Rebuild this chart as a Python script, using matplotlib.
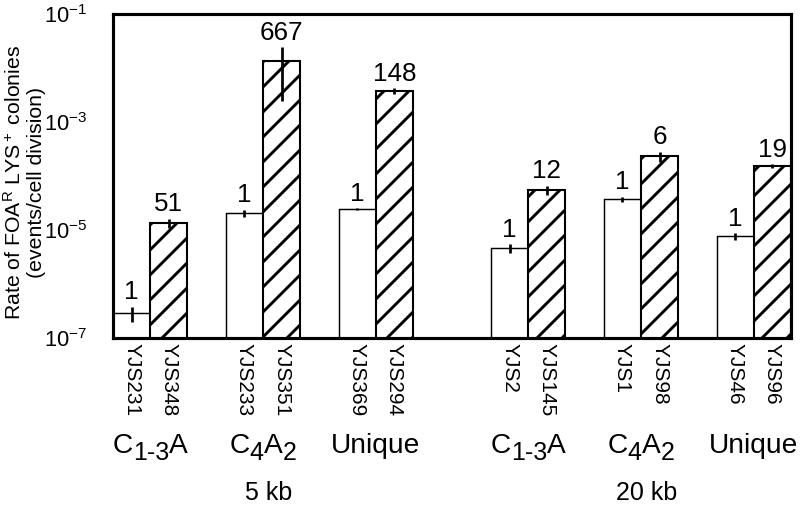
import numpy as np
import matplotlib
matplotlib.use("Agg")
import matplotlib.pyplot as plt
from matplotlib.ticker import NullLocator
from matplotlib.transforms import offset_copy

plt.rcParams['font.family'] = ['Liberation Sans', 'DejaVu Sans']
plt.rcParams['mathtext.fontset'] = 'custom'
plt.rcParams['mathtext.rm'] = 'Liberation Sans'
plt.rcParams['mathtext.it'] = 'Liberation Sans'
plt.rcParams['mathtext.default'] = 'regular'
plt.rcParams['hatch.linewidth'] = 1.4

# data
strains_white = ['YJS231', 'YJS233', 'YJS369', 'YJS2', 'YJS1', 'YJS46']
strains_hatch = ['YJS348', 'YJS351', 'YJS294', 'YJS145', 'YJS98', 'YJS96']
rate_white = [2.9e-7, 2.07e-5, 2.45e-5, 4.65e-6, 3.7e-5, 7.7e-6]
rate_hatch = [1.35e-5, 1.35e-2, 3.75e-3, 5.5e-5, 2.34e-4, 1.53e-4]
err_white = [0.9e-7, 0.3e-5, 0.1e-5, 0.9e-6, 0.45e-5, 1.1e-6]
err_hatch = [0.27e-5, 1.1e-2, 0.45e-3, 1.1e-5, 0.5e-4, 0.12e-4]
fold_white = ['1', '1', '1', '1', '1', '1']
fold_hatch = ['51', '667', '148', '12', '6', '19']
# group labels as (text, is_subscript) pieces
groups = [[('C', 0), ('1-3', 1), ('A', 0)],
          [('C', 0), ('4', 1), ('A', 0), ('2', 1)],
          [('Unique', 0)],
          [('C', 0), ('1-3', 1), ('A', 0)],
          [('C', 0), ('4', 1), ('A', 0), ('2', 1)],
          [('Unique', 0)]]
sizes = ['5 kb', '20 kb']

pos = np.array([0, 1, 2, 3.35, 4.35, 5.35])
w = 0.33

fig = plt.figure(figsize=(800 / 150, 506 / 150), dpi=150)
ax = fig.add_axes([113 / 800, 1 - 338 / 506, (791 - 113) / 800, (338 - 14) / 506])
ax.set_yscale('log')

ax.bar(pos - w / 2, rate_white, w, color='white', edgecolor='black', linewidth=0.7)
ax.bar(pos + w / 2, rate_hatch, w, color='white', edgecolor='black', linewidth=1.0, hatch='//')
ax.errorbar(pos - w / 2, rate_white, yerr=err_white, fmt='none', ecolor='black', elinewidth=1.3, capsize=0)
ax.errorbar(pos + w / 2, rate_hatch, yerr=err_hatch, fmt='none', ecolor='black', elinewidth=1.3, capsize=0)

for i in range(len(pos)):
    ax.annotate(fold_white[i], (pos[i] - w / 2, rate_white[i] + err_white[i]), xytext=(0, 3.5),
                textcoords='offset points', ha='center', va='baseline', fontsize=12.5)
    ax.annotate(fold_hatch[i], (pos[i] + w / 2, rate_hatch[i] + err_hatch[i]), xytext=(0, 3.5),
                textcoords='offset points', ha='center', va='baseline', fontsize=12.5)

ax.set_ylim(1e-7, 1e-1)
ax.set_xlim(pos[0] - w, pos[-1] + w)
ax.set_yticks([1e-7, 1e-5, 1e-3, 1e-1])
ax.set_yticklabels([r'10$^{-7}$', r'10$^{-5}$', r'10$^{-3}$', r'10$^{-1}$'], fontsize=10.5)
ax.yaxis.set_minor_locator(NullLocator())

xt = np.ravel(np.column_stack([pos - w / 2, pos + w / 2]))
xl = [s for pair in zip(strains_white, strains_hatch) for s in pair]
ax.set_xticks(xt)
ax.set_xticklabels(xl, rotation=-90, fontsize=10, va='top', ha='center')
ax.tick_params(axis='x', length=0, pad=2.5)
ax.tick_params(axis='y', length=0, pad=12.5)

for s in ax.spines.values():
    s.set_linewidth(1.5)

trans = ax.get_xaxis_transform()
renderer = fig.canvas.get_renderer()
ybase = (338 - 453) / 324
for i, parts in enumerate(groups):
    texts = []
    for s, sub in parts:
        t = ax.text(pos[i], ybase, s, transform=trans, ha='left', va='baseline',
                    fontsize=12 if sub else 13.5)
        texts.append((t, sub))
    widths = [t.get_window_extent(renderer).width for t, _ in texts]
    off = -sum(widths) / 2
    for (t, sub), wd in zip(texts, widths):
        t.set_transform(offset_copy(trans, fig=fig, x=off, y=-7 if sub else 0, units='dots'))
        off += wd

for i, s in zip([1, 4], sizes):
    ax.text(pos[i] + 0.05, (338 - 500) / 324, s, transform=trans, ha='center', va='baseline', fontsize=12)

fig.text(14 / 800, 1 - 182 / 506, r'Rate of FOA$^\mathrm{R}$ LYS$^+$ colonies', rotation=90,
         ha='center', va='center', fontsize=10.2)
fig.text(37 / 800, 1 - 182 / 506, '(events/cell division)', rotation=90,
         ha='center', va='center', fontsize=10.2)

fig.savefig('out.png', dpi=150)
